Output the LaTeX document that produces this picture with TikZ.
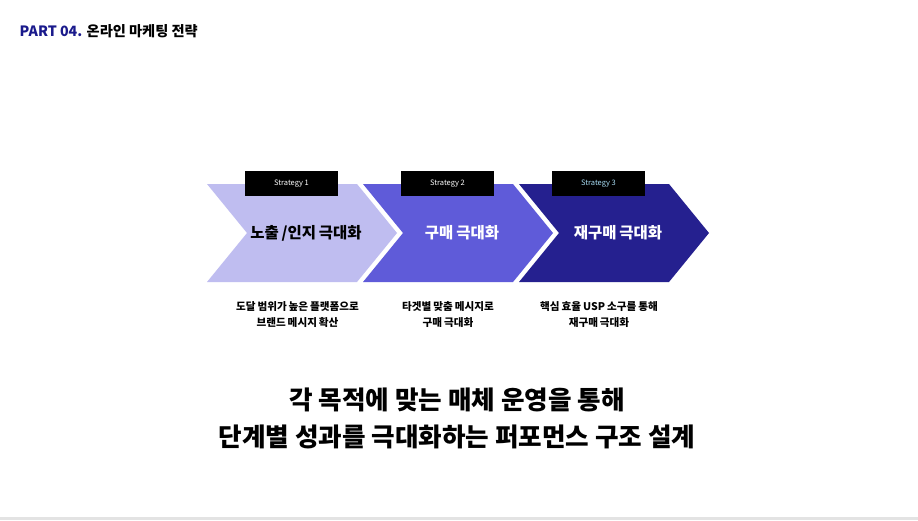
\documentclass[tikz,border=0pt]{standalone}
\usepackage{fontspec}
\setmainfont{Noto Sans CJK KR}
\newfontfamily\tightkr{Noto Sans CJK KR}[WordSpace=0.8]
\definecolor{navy}{HTML}{1A1A8C}
\definecolor{chevA}{HTML}{BFBDF0}
\definecolor{chevB}{HTML}{5F5BD9}
\definecolor{chevC}{HTML}{25208F}
\definecolor{lblue}{HTML}{A8DDF5}
\definecolor{footgrey}{HTML}{E3E3E3}
\begin{document}
\begin{tikzpicture}[x=1pt,y=-1pt,
  tag/.style={fill=black,text=white,minimum width=93pt,minimum height=25pt,inner sep=0pt,font=\fontsize{7.5}{8}\selectfont},
  chevtext/.style={font=\tightkr\fontsize{15.5}{18}\selectfont\bfseries},
  desc/.style={align=center,font=\tightkr\fontsize{10.6}{16}\selectfont\bfseries},
  headline/.style={align=center,font=\fontsize{25.6}{37}\selectfont\bfseries}]
\useasboundingbox (0,0) rectangle (918,520);
\fill[white] (0,0) rectangle (918,520);
\fill[footgrey] (0,517) rectangle (918,520);
\node[anchor=west,font=\fontsize{14.2}{16}\selectfont\bfseries,inner sep=0pt] (title) at (19.5,31) {\textcolor{navy}{PART 04.} 온라인 마케팅 전략};
% chevrons
\fill[chevA] (207,184) -- (357,184) -- (397,233) -- (357,282) -- (207,282) -- (247,233) -- cycle;
\fill[chevB] (363,184) -- (513,184) -- (553,233) -- (513,282) -- (363,282) -- (403,233) -- cycle;
\fill[chevC] (519,184) -- (669,184) -- (709,233) -- (669,282) -- (519,282) -- (559,233) -- cycle;
\node[chevtext,text=black] (c1) at (306,233) {노출 /인지 극대화};
\node[chevtext,text=white] (c2) at (462,233) {구매 극대화};
\node[chevtext,text=white] (c3) at (618,233) {재구매 극대화};
\node[tag] (t1) at (291.5,183.5) {Strategy 1};
\node[tag] (t2) at (447.5,183.5) {Strategy 2};
\node[tag,text=lblue] (t3) at (598.5,183.5) {Strategy 3};
\node[desc] (d1) at (297.5,314.5) {도달 범위가 높은 플랫폼으로\\브랜드 메시지 확산};
\node[desc] (d2) at (448,314.5) {타겟별 맞춤 메시지로\\구매 극대화};
\node[desc] (d3) at (599,314.5) {핵심 효율 USP 소구를 통해\\재구매 극대화};
\node[headline] (h) at (457,418.5) {각 목적에 맞는 매체 운영을 통해\\단계별 성과를 극대화하는 퍼포먼스 구조 설계};
\end{tikzpicture}
\end{document}
